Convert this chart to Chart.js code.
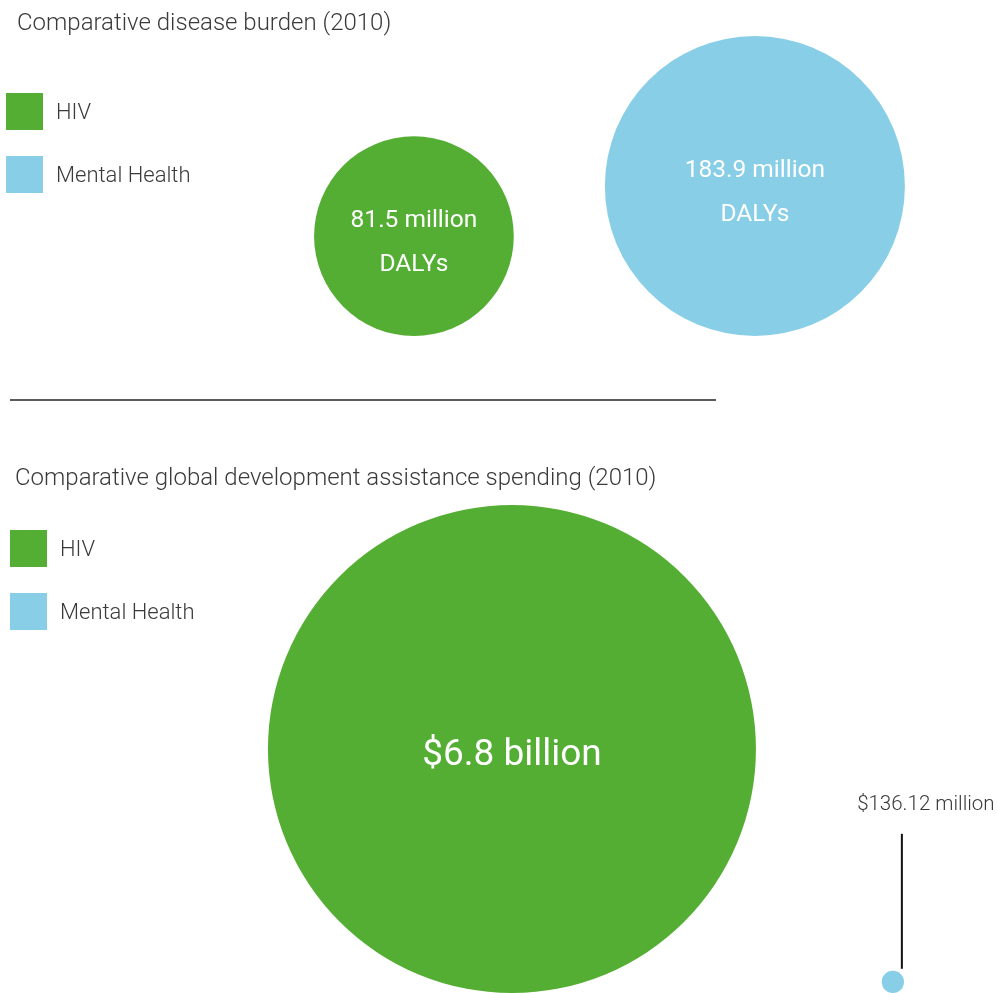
<!DOCTYPE html>
<html>
<head>
<meta charset="utf-8">
<script src="https://cdn.jsdelivr.net/npm/chart.js@4.4.1/dist/chart.umd.min.js"></script>
<style>
    body {
        margin: 0;
        width: 998px;
        height: 993px;
        position: relative;
        overflow: hidden;
        background: #ffffff;
        font-family: Roboto, 'Open Sans', sans-serif;
        color: #3a3a3a;
    }
    canvas { position: absolute; left: 0; }
    #burden-chart { top: 0; }
    #spending-chart { top: 400px; }
    .title {
        position: absolute;
        font-size: 24px;
        font-weight: 300;
        line-height: 24px;
        white-space: nowrap;
        z-index: 2;
    }
    .legend { position: absolute; z-index: 2; }
    .legend-item {
        display: flex;
        align-items: center;
        height: 37px;
        margin-bottom: 26px;
        font-size: 22px;
        font-weight: 300;
        white-space: nowrap;
    }
    .swatch { width: 37px; height: 37px; margin-right: 13px; }
    .divider {
        position: absolute;
        left: 10px;
        top: 399px;
        width: 706px;
        height: 2px;
        background: #5a5a5a;
    }
</style>
</head>
<body>
    <div class="title" style="left:17px; top:10px;">Comparative disease burden (2010)</div>
    <div class="legend" id="burden-legend" style="left:6px; top:93px;"></div>
    <canvas id="burden-chart" width="998" height="400"></canvas>

    <div class="divider"></div>

    <div class="title" style="left:15px; top:465px;">Comparative global development assistance spending (2010)</div>
    <div class="legend" id="spending-legend" style="left:10px; top:530px;"></div>
    <canvas id="spending-chart" width="998" height="593"></canvas>

<script>
const categories = ['HIV', 'Mental Health'];
const categoryColors = ['#55ae34', '#87cee6'];

// Disease burden, million DALYs
const burdenDalys = [81.5, 183.9];

// Development assistance spending, million USD
const spendingMillions = [6800, 136.12];

function buildLegend(id) {
    const box = document.getElementById(id);
    categories.forEach((name, i) => {
        const item = document.createElement('div');
        item.className = 'legend-item';
        item.innerHTML = `<div class="swatch" style="background:${categoryColors[i]}"></div><span>${name}</span>`;
        box.appendChild(item);
    });
}

// Radius relative to the largest value; exponent controls how fast size falls off
function radiusFor(value, values, maxRadius, exponent) {
    const max = Math.max(...values);
    return maxRadius * Math.pow(value / max, exponent);
}

// Bubbles sit on the bottom of the chart area, so y is the radius in pixel units
function bubblePoints(values, maxRadius, exponent) {
    return values.map((v, i) => {
        const r = radiusFor(v, values, maxRadius, exponent);
        return { x: i, y: r, r: r, value: v };
    });
}

function formatDalys(v) {
    return [`${v.toFixed(1)} million`, 'DALYs'];
}

function formatSpending(v) {
    if (v >= 1000) return [`$${(v / 1000).toFixed(1)} billion`];
    return [`$${v.toFixed(2)} million`];
}

// Writes each value inside its bubble, or above it with a leader line when the bubble is tiny
const bubbleLabels = {
    id: 'bubbleLabels',
    afterDatasetsDraw(chart, args, opts) {
        const ctx = chart.ctx;
        const meta = chart.getDatasetMeta(0);
        const points = chart.data.datasets[0].data;
        ctx.save();
        ctx.textAlign = 'center';
        ctx.textBaseline = 'middle';
        meta.data.forEach((el, i) => {
            const p = points[i];
            const lines = opts.format(p.value);
            if (p.r < 30) {
                const lineX = el.x + 9;
                const lineBottom = el.y - p.r - 2;
                const lineTop = lineBottom - 135;
                ctx.strokeStyle = '#111111';
                ctx.lineWidth = 2;
                ctx.beginPath();
                ctx.moveTo(lineX, lineBottom);
                ctx.lineTo(lineX, lineTop);
                ctx.stroke();
                ctx.fillStyle = '#3a3a3a';
                ctx.font = '300 20.5px Roboto';
                ctx.fillText(lines[0], el.x + 33, lineTop - 29);
                return;
            }
            ctx.fillStyle = '#ffffff';
            ctx.font = opts.font;
            const step = opts.lineHeight;
            const start = el.y + opts.shift - (lines.length - 1) * step / 2;
            lines.forEach((line, k) => ctx.fillText(line, el.x, start + k * step));
        });
        ctx.restore();
    }
};

function createBubbleChart(canvasId, values, maxRadius, exponent, xRange, yMax, padBottom, labelOpts) {
    const ctx = document.getElementById(canvasId).getContext('2d');
    return new Chart(ctx, {
        type: 'bubble',
        data: {
            datasets: [{
                data: bubblePoints(values, maxRadius, exponent),
                backgroundColor: categoryColors,
                borderWidth: 0,
                hoverRadius: 0,
                clip: false
            }]
        },
        options: {
            responsive: false,
            animation: false,
            events: [],
            layout: {
                autoPadding: false,
                padding: { left: 0, right: 0, top: 0, bottom: padBottom }
            },
            scales: {
                x: { type: 'linear', min: xRange[0], max: xRange[1], display: false },
                y: { type: 'linear', min: 0, max: yMax, display: false }
            },
            plugins: {
                legend: { display: false },
                tooltip: { enabled: false },
                bubbleLabels: labelOpts
            }
        },
        plugins: [bubbleLabels]
    });
}

buildLegend('burden-legend');
buildLegend('spending-legend');

createBubbleChart('burden-chart', burdenDalys, 150, 0.5, [-1.214, 1.713], 336, 64, {
    format: formatDalys,
    font: '400 24.5px Roboto',
    lineHeight: 44,
    shift: 7
});

createBubbleChart('spending-chart', spendingMillions, 244, 0.79, [-1.344, 1.276], 593, 0, {
    format: formatSpending,
    font: '400 37px Roboto',
    lineHeight: 44,
    shift: 7
});
</script>
</body>
</html>
